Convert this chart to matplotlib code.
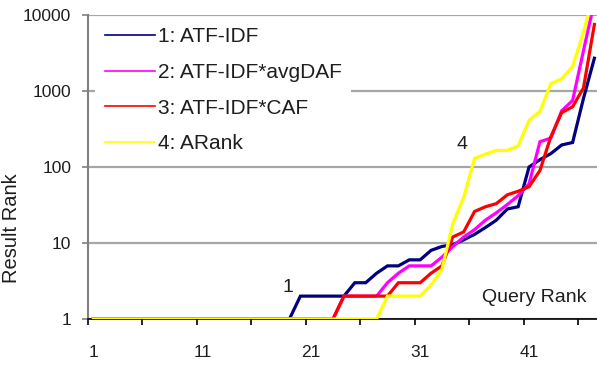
import matplotlib
matplotlib.use("Agg")
import matplotlib.pyplot as plt
from matplotlib.ticker import FixedLocator, NullFormatter, NullLocator

plt.rcParams['font.family'] = ['Liberation Sans', 'DejaVu Sans']

query_rank = list(range(1, 48))

atf_idf = [1, 1, 1, 1, 1, 1, 1, 1, 1, 1, 1, 1, 1, 1, 1, 1, 1, 1, 1,
           2, 2, 2, 2, 2, 3, 3, 4, 5, 5, 6, 6, 8, 9, 9.5, 11, 13, 16, 20,
           28, 30, 100, 125, 150, 195, 210, 800, 2700]
atf_idf_avgdaf = [1, 1, 1, 1, 1, 1, 1, 1, 1, 1, 1, 1, 1, 1, 1, 1, 1, 1, 1,
                  1, 1, 1, 1, 2, 2, 2, 2, 3, 4, 5, 5, 5, 6.5, 9, 12, 15, 20, 25,
                  32, 42, 60, 215, 240, 550, 750, 3400, 15000]
atf_idf_caf = [1, 1, 1, 1, 1, 1, 1, 1, 1, 1, 1, 1, 1, 1, 1, 1, 1, 1, 1,
               1, 1, 1, 1, 2, 2, 2, 2, 2, 3, 3, 3, 4, 5, 12, 14, 26, 30, 33,
               43, 48, 55, 90, 250, 520, 620, 1100, 7500]
arank = [1, 1, 1, 1, 1, 1, 1, 1, 1, 1, 1, 1, 1, 1, 1, 1, 1, 1, 1,
         1, 1, 1, 1, 1, 1, 1, 1, 2, 2, 2, 2, 2.8, 4.5, 18, 40, 130, 148, 165,
         165, 190, 410, 540, 1250, 1450, 2100, 6000, 20000]

series_names = ["1: ATF-IDF", "2: ATF-IDF*avgDAF", "3: ATF-IDF*CAF", "4: ARank"]
series_colors = ["#000080", "#FF00FF", "#FF0000", "#FFFF00"]

y_ticks = [1, 10, 100, 1000, 10000]
x_labels = [1, 11, 21, 31, 41]

txt = "#1e1e1e"

fig = plt.figure(figsize=(5.97, 3.66), dpi=100)
ax = fig.add_axes([88 / 597, 47 / 366, 509 / 597, 304 / 366])

all_series = [atf_idf, atf_idf_avgdaf, atf_idf_caf, arank]
for k in range(4):
    ax.plot(query_rank, all_series[k], color=series_colors[k], lw=2.3,
            label=series_names[k], zorder=3 + k, solid_joinstyle='miter')

ax.set_yscale('log')
ax.set_ylim(1, 10000)
ax.set_xlim(0.5, 47.24)

ax.yaxis.set_major_locator(FixedLocator(y_ticks))
ax.yaxis.set_minor_locator(NullLocator())
ax.set_yticklabels([str(v) for v in y_ticks])
ax.grid(axis='y', color='#a6a6a6', lw=1.6, zorder=1)

# ticks between categories, labels on categories
ax.xaxis.set_major_locator(FixedLocator([0.5 + 5 * k for k in range(10)]))
ax.xaxis.set_major_formatter(NullFormatter())
ax.xaxis.set_minor_locator(FixedLocator(x_labels))
ax.set_xticklabels([str(v) for v in x_labels], minor=True)
ax.tick_params(axis='x', which='minor', length=0, pad=19, labelsize=12.5, labelcolor=txt)
ax.tick_params(axis='x', which='major', length=4, width=1.2, color='black', direction='out')
ax.tick_params(axis='y', which='major', length=4, width=1.2, color='#808080',
               pad=8, labelsize=12.5, labelcolor=txt)

for s in ['top', 'right']:
    ax.spines[s].set_visible(False)
ax.spines['left'].set_color('#808080')
ax.spines['left'].set_linewidth(1.5)
ax.spines['bottom'].set_color('black')
ax.spines['bottom'].set_linewidth(1.2)

fig.text(12 / 597, 1 - 228 / 366, "Result Rank", fontsize=14.5, color=txt,
         rotation=90, ha='center', va='center')

ax.text(18.86, 2.63, "1", fontsize=14, color=txt, ha='center', va='center', zorder=10)
ax.text(34.84, 195, "4", fontsize=14, color=txt, ha='center', va='center', zorder=10)
ax.text(0.98, 0.072, "Query Rank", transform=ax.transAxes, fontsize=14,
        color=txt, ha='right', va='center', zorder=10)

leg = ax.legend(loc='upper left', bbox_to_anchor=(0.014, 0.99), fontsize=15,
                frameon=True, fancybox=False, edgecolor='none', facecolor='white',
                framealpha=1.0, handlelength=2.4, handletextpad=0.15,
                labelspacing=0.8, borderpad=0.45, borderaxespad=0)
for t in leg.get_texts():
    t.set_color(txt)
for h in leg.legend_handles:
    h.set_linewidth(1.2)
leg.set_zorder(2)

fig.savefig("out.png", dpi=100)
